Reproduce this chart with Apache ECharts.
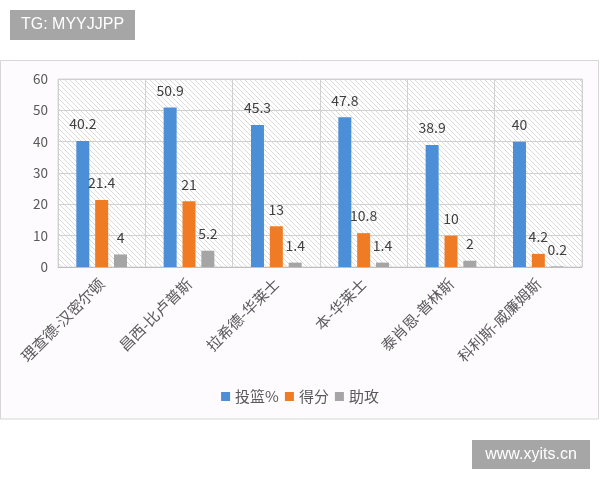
<!DOCTYPE html>
<html>
<head>
<meta charset="utf-8">
<script src="https://cdn.jsdelivr.net/npm/echarts@6/dist/echarts.min.js"></script>
<style>
  html, body { margin: 0; padding: 0; background: #fff; }
  #main { width: 600px; height: 480px; }
</style>
</head>
<body>
<div id="main"></div>
<script>
// 球員數據
const categories = ['理查德-汉密尔顿', '昌西-比卢普斯', '拉希德-华莱士', '本-华莱士', '泰肖恩-普林斯', '科利斯-威廉姆斯'];
const seriesNames = ['投篮%', '得分', '助攻'];
const shootPct = [40.2, 50.9, 45.3, 47.8, 38.9, 40];
const points = [21.4, 21, 13, 10.8, 10, 4.2];
const assists = [4, 5.2, 1.4, 1.4, 2, 0.2];
const yMin = 0, yMax = 60, yStep = 10;

const colors = ['#4d8fd7', '#f07b25', '#a5a5a5'];
const font = '"Noto Sans CJK SC", "Noto Sans", sans-serif';

// 斜線底紋
let hatch = document.createElement('canvas');
hatch.width = 5;
hatch.height = 5;
let hctx = hatch.getContext('2d');
hctx.fillStyle = '#ffffff';
hctx.fillRect(0, 0, 5, 5);
hctx.fillStyle = '#dadada';
for (let i = 0; i < 5; i++) hctx.fillRect(i, i, 1, 1);

let chart = echarts.init(document.getElementById('main'));

function makeSeries(name, data, color) {
  return {
    name: name,
    type: 'bar',
    data: data,
    barWidth: 13,
    barGap: '45%',
    itemStyle: { color: color },
    label: {
      show: true,
      position: 'top',
      distance: 10,
      fontSize: 14,
      color: '#404040',
      fontFamily: font
    }
  };
}

let option = {
  animation: false,
  backgroundColor: '#ffffff',
  textStyle: { fontFamily: font },
  graphic: [
    {
      type: 'rect', z: -10,
      shape: { x: 0.5, y: 60.5, width: 598, height: 358.5 },
      style: { fill: '#fdfbfd', stroke: '#d6d6d6', lineWidth: 1 }
    },
    {
      type: 'rect', z: 10,
      shape: { x: 10, y: 10, width: 125, height: 30 },
      style: { fill: '#a6a6a6' }
    },
    {
      type: 'text', z: 11, x: 72.5, y: 25,
      style: { text: 'TG: MYYJJPP', fill: '#ffffff', fontSize: 16, fontFamily: 'Liberation Sans, Arial, sans-serif', align: 'center', verticalAlign: 'middle' }
    },
    {
      type: 'rect', z: 10,
      shape: { x: 472, y: 440, width: 118, height: 29 },
      style: { fill: '#a6a6a6' }
    },
    {
      type: 'text', z: 11, x: 531, y: 455,
      style: { text: 'www.xyits.cn', fill: '#ffffff', fontSize: 16, fontFamily: 'Liberation Sans, Arial, sans-serif', align: 'center', verticalAlign: 'middle' }
    }
  ],
  grid: {
    left: 58, right: 18, top: 79, bottom: 213,
    containLabel: false,
    outerBoundsMode: 'none',
    show: true,
    backgroundColor: { image: hatch, repeat: 'repeat' },
    borderColor: '#d9d9d9',
    borderWidth: 1
  },
  legend: {
    data: seriesNames,
    top: 384,
    left: 'center',
    icon: 'rect',
    itemWidth: 9,
    itemHeight: 9,
    itemGap: 6,
    textStyle: { fontSize: 15, color: '#595959', fontFamily: font }
  },
  xAxis: {
    type: 'category',
    data: categories,
    axisLine: { show: true, lineStyle: { color: '#bfbfbf' } },
    axisTick: { show: false },
    splitLine: { show: true, lineStyle: { color: '#d0d0d0' } },
    axisLabel: {
      rotate: 45,
      interval: 0,
      margin: 14,
      fontSize: 15,
      color: '#595959',
      fontFamily: font
    }
  },
  yAxis: {
    type: 'value',
    min: yMin,
    max: yMax,
    interval: yStep,
    axisLine: { show: false },
    axisTick: { show: false },
    splitLine: { show: true, lineStyle: { color: '#d0d0d0' } },
    axisLabel: { fontSize: 13.5, color: '#595959', margin: 10, fontFamily: font }
  },
  series: [
    makeSeries(seriesNames[0], shootPct, colors[0]),
    makeSeries(seriesNames[1], points, colors[1]),
    makeSeries(seriesNames[2], assists, colors[2])
  ]
};

chart.setOption(option);
</script>
</body>
</html>
